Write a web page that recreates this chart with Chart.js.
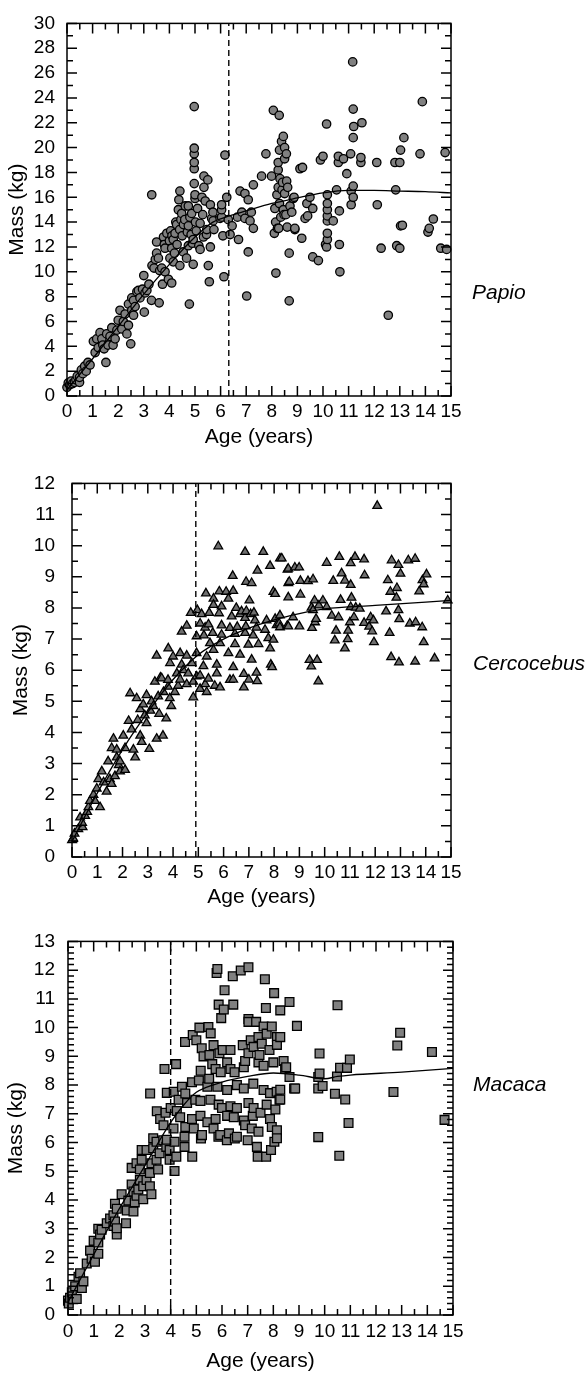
<!DOCTYPE html>
<html>
<head>
<meta charset="utf-8">
<script src="https://cdn.jsdelivr.net/npm/chart.js@4.4.1/dist/chart.umd.min.js"></script>
<style>
  body { margin: 0; background: #fff; }
  #wrap { position: relative; width: 588px; height: 1378px; overflow: hidden; }
  canvas { position: absolute; left: 0; }
  .sp { position: absolute; font: italic 21px "Liberation Sans", Arial, sans-serif; color: #000; line-height: 24px; }
</style>
</head>
<body>
<div id="wrap">
  <canvas id="papio" width="588" height="455" style="top:0"></canvas>
  <canvas id="cerco" width="588" height="462" style="top:455px"></canvas>
  <canvas id="macaca" width="588" height="461" style="top:917px"></canvas>
  <div class="sp" style="left:472px;top:280px">Papio</div>
  <div class="sp" style="left:473px;top:651px">Cercocebus</div>
  <div class="sp" style="left:473px;top:1072px">Macaca</div>
</div>
<script>
// age (years), mass (kg)
const papioPoints = [
  [0,0.7],[0.05,1.05],[0.1,0.9],[0.16,1.2],[0.22,1.0],[0.29,1.1],[0.35,1.3],[0.4,1.6],[0.49,1.1],[0.49,1.5],[0.56,2.1],[0.62,1.8],[0.69,2.4],[0.75,2.0],[0.82,2.7],[0.9,2.5],
  [1.03,4.4],[1.1,3.5],[1.16,4.6],[1.22,3.9],[1.29,5.1],[1.36,4.6],[1.4,4.1],[1.45,3.8],[1.52,2.7],[1.55,5.0],[1.6,4.1],[1.68,4.8],[1.75,5.5],[1.8,4.1],[1.88,4.6],[1.95,5.3],
  [2.0,6.1],[2.07,6.9],[2.14,5.4],[2.2,6.0],[2.27,6.6],[2.34,5.0],[2.4,7.4],[2.4,5.7],[2.49,4.2],[2.53,7.9],[2.53,6.9],[2.6,6.5],[2.6,7.7],[2.66,7.2],[2.73,8.4],[2.79,8.5],[2.85,7.9],[2.95,8.6],
  [3.0,9.7],[3.02,6.75],[3.05,8.3],[3.12,8.5],[3.2,9.0],[3.3,7.7],[3.32,10.5],[3.31,16.2],[3.4,10.3],[3.45,11.0],[3.5,11.5],[3.5,12.4],[3.57,11.1],[3.6,7.5],[3.62,10.1],[3.7,10.3],[3.73,9.0],[3.77,12.8],[3.8,12.2],[3.83,10.0],[3.83,11.9],[3.9,13.1],[3.96,9.4],
  [4.0,12.5],[4.02,11.1],[4.05,13.3],[4.09,9.1],[4.09,11.9],[4.1,12.9],[4.15,10.8],[4.15,12.6],[4.2,11.5],[4.22,13.1],[4.25,14.0],[4.28,13.8],[4.3,12.2],[4.35,15.0],[4.37,15.8],[4.4,13.4],[4.41,10.5],[4.41,16.5],[4.45,14.2],[4.48,14.7],[4.5,12.9],[4.54,11.6],[4.55,13.8],[4.6,14.2],[4.62,15.3],[4.67,11.1],[4.7,13.2],[4.74,12.1],[4.74,13.7],[4.74,15.3],[4.78,7.4],[4.8,14.4],[4.85,13.0],[4.87,14.7],[4.9,12.3],[4.93,10.6],[4.93,12.6],
  [4.97,17.1],[4.97,18.3],[4.97,18.8],[4.97,19.5],[4.97,19.95],[4.97,23.3],[5.0,15.9],[5.0,16.2],[5.02,14.0],[5.05,13.3],[5.1,15.1],[5.15,12.1],[5.2,11.8],[5.2,13.9],[5.27,16.0],[5.3,14.6],[5.33,12.8],[5.35,16.8],[5.35,17.7],[5.4,15.7],[5.45,13.0],[5.46,13.4],[5.5,17.4],[5.52,10.5],[5.56,9.2],[5.6,12.0],[5.6,15.4],[5.65,14.3],[5.71,14.1],[5.7,14.8],[5.74,13.4],
  [5.98,14.3],[6.04,14.4],[6.04,15.0],[6.04,15.4],[6.09,12.9],[6.13,9.6],[6.17,19.4],[6.24,16.0],[6.3,14.2],[6.37,13.0],[6.45,13.7],[6.66,14.4],[6.7,12.6],[6.76,16.5],[6.83,14.8],[6.95,14.3],[6.95,16.3],
  [7.02,8.05],[7.08,11.6],[7.08,15.8],[7.15,14.1],[7.2,14.8],[7.28,13.5],[7.28,17.0],[7.6,17.7],[7.77,19.5],
  [7.99,17.7],[8.06,23.0],[8.1,13.1],[8.12,15.1],[8.15,14.0],[8.16,9.9],[8.2,16.2],[8.22,13.5],[8.25,18.2],[8.25,18.8],[8.25,16.8],[8.27,13.5],[8.29,22.6],[8.3,19.8],[8.3,15.5],[8.32,17.5],[8.35,14.4],[8.38,20.5],[8.4,16.6],[8.42,17.2],[8.45,20.9],[8.45,15.0],[8.48,14.6],[8.5,19.1],[8.5,20.0],[8.5,16.3],[8.55,14.6],[8.57,19.5],[8.58,17.3],[8.6,13.6],[8.62,16.8],[8.68,11.5],[8.68,7.66],[8.71,15.3],[8.78,14.8],[8.84,15.9],[8.87,16.0],[8.9,13.4],[8.9,13.5],
  [9.1,18.3],[9.17,12.7],[9.2,18.4],[9.3,14.3],[9.37,15.5],[9.4,14.5],[9.49,16.0],[9.6,11.2],[9.6,15.1],[9.82,10.9],[9.9,19.0],
  [10.0,19.3],[10.1,12.2],[10.14,12.0],[10.14,21.9],[10.17,12.6],[10.17,13.1],[10.17,14.1],[10.17,14.5],[10.17,15.0],[10.17,15.5],[10.17,16.2],[10.4,14.1],[10.53,16.6],[10.6,18.8],[10.6,19.3],[10.64,12.2],[10.64,14.9],[10.66,10.0],[10.8,19.1],[10.93,17.9],
  [11.08,19.5],[11.1,15.4],[11.1,16.5],[11.16,26.9],[11.18,16.0],[11.18,16.9],[11.18,20.8],[11.18,23.1],[11.2,21.7],[11.48,18.8],[11.48,19.2],[11.52,22.0],
  [12.1,18.8],[12.12,15.4],[12.27,11.9],[12.55,6.5],[12.81,18.8],[12.84,16.6],[12.88,12.1],[13.0,11.9],[13.0,18.8],[13.03,13.7],[13.03,19.8],[13.1,13.75],[13.16,20.8],
  [13.79,19.5],[13.88,23.7],[14.1,13.2],[14.15,13.5],[14.31,14.25],[14.6,11.9],[14.77,19.6],[14.83,11.8]
];
const papioFitAge  = [0, 1, 2, 3, 4, 5, 5.7, 6.35, 7, 8, 9, 10, 11, 12, 13, 14, 15];
const papioFitMass = [0.5, 3.0, 5.6, 8.2, 10.6, 12.8, 14.0, 14.5, 14.9, 15.5, 15.95, 16.35, 16.55, 16.55, 16.5, 16.45, 16.35];
const papioCut = 6.32;

const cercoPoints = [
  [0,0.54],[0.05,0.6],[0.1,0.75],[0.25,0.9],[0.42,0.96],[0.32,1.27],[0.52,1.32],[0.4,1.1],[0.6,1.45],[0.65,1.6],[0.71,1.8],[0.85,2.0],[0.91,1.8],[0.98,2.2],
  [1.04,2.5],[1.11,1.6],[1.18,2.75],[1.25,2.4],[1.37,2.1],[1.43,3.07],[1.5,2.5],[1.57,3.5],[1.57,2.35],[1.64,3.8],[1.7,2.6],[1.77,3.45],[1.77,3.2],[1.85,2.95],[1.9,3.07],[1.9,2.75],
  [2.03,3.9],[2.1,3.5],[2.1,2.8],[2.24,4.37],[2.3,5.26],[2.36,4.1],[2.43,3.45],[2.5,3.2],[2.56,5.1],[2.6,4.4],[2.7,3.9],[2.7,4.75],[2.76,3.7],[2.82,4.9],[2.88,4.55],[2.95,4.3],[2.95,5.2],
  [3.06,3.47],[3.1,4.7],[3.15,5.0],[3.22,4.85],[3.28,5.63],[3.35,3.8],[3.35,6.47],[3.41,5.16],[3.45,4.6],[3.5,5.76],[3.55,5.74],[3.6,3.9],[3.62,5.3],[3.73,4.45],[3.8,5.47],[3.8,5.69],[3.81,6.7],[3.87,5.1],[3.88,6.23],[3.93,4.85],
  [4.0,6.44],[4.07,5.3],[4.15,5.9],[4.2,5.5],[4.28,6.55],[4.28,5.7],[4.34,6.18],[4.34,7.24],[4.4,6.0],[4.54,5.55],[4.54,6.47],[4.54,7.43],[4.6,5.9],[4.7,7.84],[4.74,6.23],[4.8,5.13],[4.8,5.63],[4.93,6.55],[4.93,7.09],[4.93,5.8],[4.96,7.93],
  [5.07,5.4],[5.07,5.83],[5.07,7.5],[5.13,7.8],[5.2,6.13],[5.22,7.12],[5.27,5.55],[5.27,7.37],[5.3,8.47],[5.33,5.3],[5.33,6.44],[5.4,5.73],[5.4,7.47],[5.43,7.84],[5.46,6.87],[5.57,7.2],[5.6,8.3],[5.6,8.1],[5.6,6.65],[5.65,5.5],[5.73,5.9],[5.73,6.18],[5.79,9.98],[5.82,7.83],[5.83,8.53],[5.86,5.45],[5.86,6.87],[5.92,8.05],[5.92,7.44],[5.92,7.14],
  [6.1,8.52],[6.19,8.3],[6.19,6.55],[6.25,7.36],[6.25,5.69],[6.32,7.73],[6.36,9.03],[6.38,8.55],[6.38,6.1],[6.38,5.7],[6.45,7.17],[6.45,6.84],[6.5,8.0],[6.54,7.39],[6.65,7.8],[6.65,6.5],[6.71,7.89],[6.8,5.45],[6.8,5.88],[6.85,9.8],[6.85,7.68],[6.85,7.2],[6.88,7.41],[6.89,8.84],[6.9,7.9],[6.98,6.82],
  [7.0,5.7],[7.02,8.24],[7.07,7.8],[7.11,8.8],[7.11,6.34],[7.17,7.12],[7.2,7.85],[7.24,7.6],[7.3,7.37],[7.3,5.92],[7.33,5.65],[7.34,9.2],[7.38,6.84],[7.57,9.8],[7.64,7.3],[7.7,7.6],[7.77,7.03],[7.84,9.35],[7.84,6.7],[7.87,6.18],[7.92,6.1],[7.97,8.52],[7.97,6.98],
  [8.04,8.45],[8.04,7.65],[8.1,7.45],[8.2,7.5],[8.23,7.76],[8.23,9.59],[8.23,7.38],[8.3,9.59],[8.52,7.43],[8.53,9.23],[8.56,8.8],[8.56,8.34],[8.56,9.26],[8.56,7.41],[8.6,8.84],[8.75,7.7],[8.82,9.3],[8.99,9.3],
  [9.0,7.41],[9.04,8.87],[9.04,8.43],[9.34,8.86],[9.4,6.33],[9.47,6.12],[9.48,8.01],[9.5,7.36],[9.54,8.92],[9.54,7.93],[9.6,8.24],[9.62,7.54],[9.66,7.65],[9.7,6.33],[9.75,5.64],[9.77,8.08],[9.93,8.24],
  [10.08,9.45],[10.08,8.03],[10.28,7.75],[10.34,8.87],[10.4,6.96],[10.45,7.27],[10.55,7.7],[10.58,9.64],[10.63,8.26],[10.67,9.11],[10.8,8.88],[10.8,6.7],[10.91,7.0],[10.93,7.27],
  [11.0,7.54],[11.03,9.44],[11.03,8.74],[11.03,8.03],[11.06,8.33],[11.16,7.7],[11.2,9.64],[11.23,8.01],[11.39,7.98],[11.56,9.56],[11.56,7.52],[11.58,9.05],[11.76,7.4],[11.82,7.7],[11.88,7.25],[11.93,7.6],[11.95,6.9],
  [12.08,11.28],[12.43,7.89],[12.5,8.89],[12.57,7.2],[12.6,8.52],[12.63,6.42],[12.65,9.53],[12.84,8.33],[12.86,8.64],[12.92,9.38],[12.92,7.93],[12.94,6.25],[12.95,7.64],
  [13.0,9.1],[13.31,9.53],[13.37,7.5],[13.58,9.58],[13.58,6.28],[13.6,7.54],[13.74,8.53],[13.86,7.38],[13.87,8.89],[13.92,8.76],[13.92,6.9],[14.03,9.08],[14.35,6.38],[14.87,8.24]
];
const cercoFitAge  = [0, 1, 2, 3, 4, 5, 6, 7, 8, 9, 10, 12, 15];
const cercoFitMass = [0.5, 2.05, 3.45, 4.65, 5.7, 6.5, 7.0, 7.35, 7.62, 7.82, 7.97, 8.08, 8.24];
const cercoCut = 4.9;

const macacaPoints = [
  [0,0.5],[0.03,0.4],[0.08,0.6],[0.15,0.79],[0.2,0.55],[0.28,1.0],[0.34,0.56],[0.41,1.33],[0.47,1.45],[0.54,0.94],[0.6,1.17],[0.73,1.79],[0.86,2.24],[0.92,1.96],
  [1.0,2.58],[1.05,1.85],[1.18,2.13],[1.18,2.52],[1.18,3.0],[1.25,2.8],[1.31,2.97],[1.51,3.19],[1.64,3.36],[1.77,3.47],[1.77,3.1],[1.83,3.25],[1.83,3.87],[1.9,2.8],[1.9,3.02],[1.9,3.7],
  [2.09,4.2],[2.26,3.19],[2.29,3.64],[2.35,3.98],[2.48,4.54],[2.48,5.12],[2.55,4.3],[2.55,3.6],[2.6,3.92],[2.67,4.15],[2.67,5.28],[2.74,4.37],[2.8,4.7],[2.8,5.06],[2.87,5.4],[2.87,5.74],[2.93,4.03],[2.93,4.48],
  [3.06,4.7],[3.06,5.74],[3.19,4.48],[3.19,4.94],[3.2,7.71],[3.25,4.2],[3.25,5.28],[3.32,5.8],[3.32,6.15],[3.45,5.4],[3.45,6.03],[3.46,7.09],[3.51,5.06],[3.57,5.63],[3.59,6.82],[3.71,6.08],[3.72,6.6],[3.76,8.56],[3.8,7.04],[3.83,5.85],[3.85,7.73],[3.85,6.1],[3.96,5.74],[3.96,5.4],
  [4.0,7.2],[4.11,6.49],[4.12,7.77],[4.15,5.01],[4.15,6.03],[4.21,8.73],[4.22,5.51],[4.24,7.1],[4.31,7.49],[4.37,6.88],[4.44,7.94],[4.54,5.85],[4.54,6.2],[4.56,9.5],[4.57,7.71],[4.57,6.54],[4.64,7.38],[4.83,8.1],[4.83,6.82],[4.84,5.51],[4.86,9.74],[4.9,6.49],[4.96,7.49],
  [5.0,9.56],[5.1,8.16],[5.12,10.0],[5.16,6.93],[5.16,7.45],[5.17,8.5],[5.18,6.14],[5.21,9.28],[5.22,6.26],[5.28,9.0],[5.43,7.94],[5.43,6.71],[5.47,10.02],[5.5,8.22],[5.51,9.05],[5.55,7.49],[5.56,9.8],[5.62,8.73],[5.67,9.39],[5.67,6.49],[5.75,8.56],[5.75,6.82],[5.79,11.9],[5.82,12.04],[5.82,7.94],[5.86,6.2],[5.87,10.8],[5.87,7.32],[5.9,9.11],[5.93,6.26],[5.95,8.45],[5.97,10.33],
  [6.0,7.2],[6.03,9.22],[6.07,10.63],[6.1,11.3],[6.19,6.08],[6.2,8.79],[6.2,7.83],[6.2,6.93],[6.27,6.32],[6.33,9.22],[6.33,8.56],[6.33,7.26],[6.42,11.79],[6.44,10.8],[6.46,6.88],[6.49,8.45],[6.5,6.14],[6.58,8.0],[6.58,7.2],[6.58,6.2],[6.73,11.99],[6.81,9.39],[6.85,8.62],[6.85,7.88],[6.85,6.77],[6.9,8.84],[6.9,6.6],
  [7.0,6.08],[7.03,12.1],[7.03,10.3],[7.03,10.2],[7.03,9.11],[7.03,7.38],[7.12,9.56],[7.16,6.49],[7.2,6.93],[7.22,8.05],[7.23,9.33],[7.23,7.2],[7.33,10.2],[7.36,5.85],[7.39,5.51],[7.42,9.67],[7.42,8.79],[7.42,6.38],[7.46,9.05],[7.5,7.04],[7.55,9.44],[7.62,10.04],[7.62,8.67],[7.62,7.83],[7.67,11.68],[7.71,10.68],[7.72,5.51],[7.74,9.79],[7.74,7.32],[7.85,9.22],[7.87,7.72],[7.87,6.82],[7.91,5.74],[7.94,10.04],[7.94,6.54],
  [8.0,8.79],[8.03,11.2],[8.04,6.03],[8.08,7.15],[8.13,7.77],[8.14,9.67],[8.14,9.4],[8.14,6.43],[8.14,6.15],[8.24,7.49],[8.27,10.6],[8.27,7.84],[8.27,7.5],[8.27,9.67],[8.4,8.84],[8.46,8.56],[8.5,8.62],[8.63,10.89],[8.63,8.28],[8.81,7.88],[8.85,7.88],[8.92,10.06],
  [9.75,6.19],[9.75,7.88],[9.75,8.28],[9.8,9.1],[9.8,8.4],[9.92,7.97],[10.4,7.7],[10.48,8.3],[10.5,10.78],[10.57,5.54],[10.6,8.6],[10.8,7.5],[10.87,8.6],[10.93,6.68],[10.98,8.89],
  [12.68,7.76],[12.83,9.38],[12.94,9.82],[14.18,9.15],[14.67,6.79]
];
const macacaFitAge  = [0, 1, 2, 3, 4, 4.5, 5, 6, 7, 8, 9, 10, 10.5, 11, 13, 15];
const macacaFitMass = [0.45, 2.1, 3.7, 5.2, 6.7, 7.3, 7.75, 8.1, 8.3, 8.42, 8.35, 8.22, 8.3, 8.35, 8.45, 8.58];
const macacaCut = 4.0;

const ageTicks = [0, 1, 2, 3, 4, 5, 6, 7, 8, 9, 10, 11, 12, 13, 14, 15];

// frame + inward tick marks, positioned through the chart's own scales
const framePlugin = {
  id: 'frame',
  afterDatasetsDraw(chart, args, opts) {
    const { ctx, chartArea: a, scales: { x, y } } = chart;
    ctx.save();
    ctx.strokeStyle = '#000';
    ctx.lineWidth = 1.5;
    ctx.strokeRect(a.left, a.top, a.right - a.left, a.bottom - a.top);
    ctx.beginPath();
    const vals = s => s.ticks.map(t => t.value);
    const minors = (v, n) => {
      const out = [];
      for (let i = 0; i < v.length - 1; i++)
        for (let k = 1; k < n; k++) out.push(v[i] + (v[i + 1] - v[i]) * k / n);
      return out;
    };
    const xt = (v, len) => {
      const p = x.getPixelForValue(v);
      ctx.moveTo(p, a.bottom); ctx.lineTo(p, a.bottom - len);
      ctx.moveTo(p, a.top); ctx.lineTo(p, a.top + len);
    };
    const yt = (v, len) => {
      const p = y.getPixelForValue(v);
      ctx.moveTo(a.left, p); ctx.lineTo(a.left + len, p);
      ctx.moveTo(a.right, p); ctx.lineTo(a.right - len, p);
    };
    vals(x).forEach(v => xt(v, 10));
    minors(vals(x), opts.xDiv).forEach(v => xt(v, 6));
    vals(y).forEach(v => yt(v, 10));
    minors(vals(y), opts.yDiv).forEach(v => yt(v, 6));
    ctx.stroke();
    ctx.restore();
  }
};

function pairs(list) { return list.map(p => ({ x: p[0], y: p[1] })); }
function zipXY(xs, ys) { return xs.map((v, i) => ({ x: v, y: ys[i] })); }

function makePanel(id, c) {
  new Chart(document.getElementById(id), {
    type: 'scatter',
    data: {
      datasets: [
        {
          type: 'line', data: zipXY(c.fitAge, c.fitMass), borderColor: '#000', borderWidth: 1.3,
          pointRadius: 0, cubicInterpolationMode: 'monotone', fill: false
        },
        {
          type: 'line', data: [{ x: c.cut, y: 0 }, { x: c.cut, y: c.yMax }], borderColor: '#000',
          borderWidth: 1.4, borderDash: [6, 4], pointRadius: 0, fill: false
        },
        {
          data: pairs(c.points), pointStyle: c.style, radius: c.radius,
          backgroundColor: c.fill, borderColor: '#000', borderWidth: 1.3, clip: false
        }
      ]
    },
    options: {
      responsive: false,
      animation: false,
      events: [],
      layout: { padding: { top: c.padTop, right: c.padRight, bottom: 0, left: 0 } },
      plugins: {
        legend: { display: false },
        tooltip: { enabled: false },
        frame: { xDiv: 2, yDiv: c.yDiv }
      },
      scales: {
        x: {
          type: 'linear', min: 0, max: 15,
          afterBuildTicks: s => { s.ticks = ageTicks.map(v => ({ value: v })); },
          grid: { display: false, drawTicks: false }, border: { display: false },
          ticks: { autoSkip: false, maxRotation: 0, color: '#000', padding: c.xPad,
                   font: { family: 'Liberation Sans', size: 19 } },
          title: { display: true, text: 'Age (years)', color: '#000',
                   font: { family: 'Liberation Sans', size: 21 }, padding: { top: 0, bottom: c.xTitlePad } },
          afterFit: s => { s.height = c.xHeight; }
        },
        y: {
          type: 'linear', min: 0, max: c.yMax,
          afterBuildTicks: s => { s.ticks = c.yTicks.map(v => ({ value: v })); },
          grid: { display: false, drawTicks: false }, border: { display: false },
          ticks: { autoSkip: false, color: '#000', padding: c.yPad,
                   font: { family: 'Liberation Sans', size: 19 } },
          title: { display: true, text: 'Mass (kg)', color: '#000',
                   font: { family: 'Liberation Sans', size: 21 }, padding: { top: c.yTitlePad, bottom: 0 } },
          afterFit: s => { s.width = c.yWidth; }
        }
      }
    },
    plugins: [framePlugin]
  });
}

makePanel('papio', {
  points: papioPoints, fitAge: papioFitAge, fitMass: papioFitMass, cut: papioCut,
  yMax: 30, yTicks: [0,2,4,6,8,10,12,14,16,18,20,22,24,26,28,30], yDiv: 2,
  style: 'circle', radius: 4.2, fill: '#808080',
  padTop: 13.5, padRight: 137, xHeight: 59, yWidth: 67,
  xPad: 4, xTitlePad: 5, yPad: 12, yTitlePad: 5
});
makePanel('cerco', {
  points: cercoPoints, fitAge: cercoFitAge, fitMass: cercoFitMass, cut: cercoCut,
  yMax: 12, yTicks: [0,1,2,3,4,5,6,7,8,9,10,11,12], yDiv: 2,
  style: 'triangle', radius: 5, fill: '#6e6e6e',
  padTop: 23, padRight: 137, xHeight: 60, yWidth: 72,
  xPad: 4, xTitlePad: 7, yPad: 17, yTitlePad: 9
});
makePanel('macaca', {
  points: macacaPoints, fitAge: macacaFitAge, fitMass: macacaFitMass, cut: macacaCut,
  yMax: 13, yTicks: [0,1,2,3,4,5,6,7,8,9,10,11,12,13], yDiv: 5,
  style: 'rect', radius: 6.2, fill: '#808080',
  padTop: 14, padRight: 135, xHeight: 63, yWidth: 68,
  xPad: 5, xTitlePad: 4, yPad: 13, yTitlePad: 4
});
</script>
</body>
</html>
